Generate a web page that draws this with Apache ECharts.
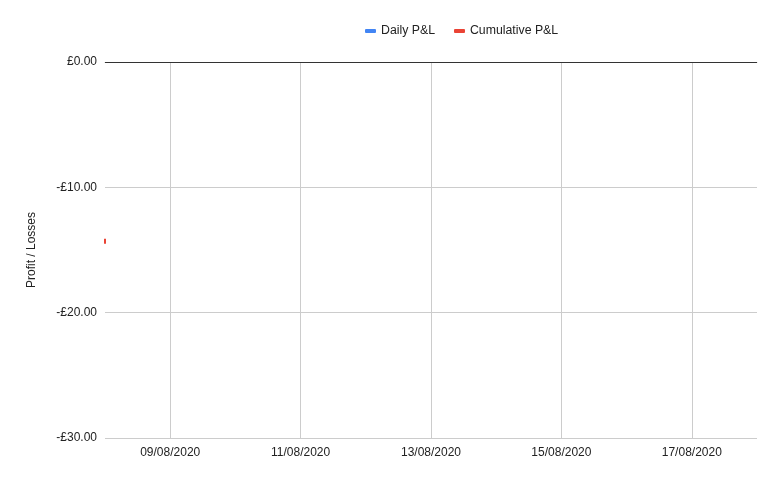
<!DOCTYPE html>
<html><head><meta charset="utf-8">
<script src="https://cdn.jsdelivr.net/npm/echarts@6/dist/echarts.min.js"></script>
<style>html,body{margin:0;padding:0;background:#fff}#c{width:781px;height:483px}</style>
</head><body><div id="c"></div>
<script>
const dates = ['08/08/2020','09/08/2020','10/08/2020','11/08/2020','12/08/2020','13/08/2020','14/08/2020','15/08/2020','16/08/2020','17/08/2020','18/08/2020'];
const dailyPL = [null,null,null,null,null,null,null,null,null,null,null];
const cumulativePL = [-14.3,null,null,null,null,null,null,null,null,null,null];
const yTicks = [-30,-20,-10,0];

const chart = echarts.init(document.getElementById('c'));
const font = 'Liberation Sans, Arial, sans-serif';
chart.setOption({
  animation:false,
  textStyle:{fontFamily:font},
  legend:{
    top:20, left:360, itemWidth:11, itemHeight:4, itemGap:19,
    icon:'roundRect',
    textStyle:{fontSize:12.3,color:'#222',fontFamily:font},
    data:['Daily P&L','Cumulative P&L']
  },
  grid:{left:105,right:24,top:62,bottom:45,containLabel:false},
  xAxis:{
    type:'category', data:dates, boundaryGap:false,
    axisLine:{show:true,lineStyle:{color:'#cccccc'}},
    axisTick:{show:false},
    axisLabel:{interval:(i)=>i%2===1, color:'#222', fontSize:12, margin:9, fontFamily:font},
    splitLine:{show:true, interval:(i)=>i%2===1, lineStyle:{color:'#cccccc',width:1}}
  },
  yAxis:{
    type:'value', min:yTicks[0], max:yTicks[yTicks.length-1], interval:10,
    name:'Profit / Losses', nameLocation:'middle', nameGap:67, nameRotate:90,
    nameTextStyle:{fontSize:12,color:'#222',fontFamily:font},
    axisLine:{show:false}, axisTick:{show:false},
    axisLabel:{color:'#222', fontSize:12, margin:8, fontFamily:font,
      formatter:(v)=> (v<0?'-£':'£') + Math.abs(v).toFixed(2)},
    splitLine:{show:true, lineStyle:{color:'#cccccc',width:1}}
  },
  series:[
    {name:'Daily P&L', type:'line', data:dailyPL, color:'#4285F4', showSymbol:false, lineStyle:{width:2}},
    {name:'Cumulative P&L', type:'line', data:cumulativePL, color:'#EA4335', showSymbol:true,
     symbol:'rect', symbolSize:[2,5], itemStyle:{color:'#EA4335'}, lineStyle:{width:2}, clip:false,
     markLine:{silent:true, symbol:'none', label:{show:false},
       lineStyle:{color:'#333333',width:1,type:'solid'}, data:[{yAxis:0}]}}
  ]
});
</script></body></html>
